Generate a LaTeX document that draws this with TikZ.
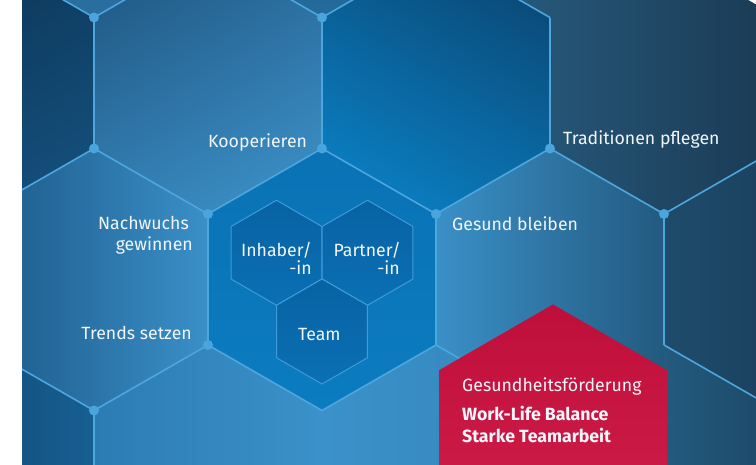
\documentclass[tikz,border=0pt]{standalone}
\usepackage{fontspec}
\setmainfont{Fira Sans}
\definecolor{gridblue}{HTML}{4EA6DF}
\definecolor{dotblue}{HTML}{4AA4DE}
\definecolor{smallline}{HTML}{3E9BD8}
\definecolor{smalltop}{HTML}{0862A3}
\definecolor{smallbot}{HTML}{0A70B4}
\definecolor{redtop}{HTML}{BE0F3A}
\definecolor{redbot}{HTML}{D2204B}
\definecolor{txt}{HTML}{F2F6FA}
% hex fills
\definecolor{mA1}{HTML}{1D5A86}\definecolor{mA2}{HTML}{2A6FA0}
\definecolor{mB1}{HTML}{1B5A88}\definecolor{mB2}{HTML}{246B9C}
\definecolor{zA1}{HTML}{0C3556}\definecolor{zA2}{HTML}{144E7A}
\definecolor{zB1}{HTML}{225C89}\definecolor{zB2}{HTML}{3A8CC2}
\definecolor{zC1}{HTML}{0A4A78}\definecolor{zC2}{HTML}{0A7DC0}
\definecolor{zD1}{HTML}{2B6286}\definecolor{zD2}{HTML}{1A3A54}
\definecolor{oA1}{HTML}{1C5888}\definecolor{oA2}{HTML}{3A90C8}
\definecolor{oB1}{HTML}{0A72B5}\definecolor{oB2}{HTML}{0B7CC0}
\definecolor{oC1}{HTML}{3A90C7}\definecolor{oC2}{HTML}{235A80}
\definecolor{oD1}{HTML}{1F4C6C}\definecolor{oD2}{HTML}{163550}
\definecolor{tA1}{HTML}{0D3F66}\definecolor{tA2}{HTML}{175F92}
\definecolor{tB1}{HTML}{2C7CB4}\definecolor{tB2}{HTML}{3B91C9}
\definecolor{tC1}{HTML}{3B91C9}\definecolor{tC2}{HTML}{3386BB}
\definecolor{tD1}{HTML}{2A6E98}\definecolor{tD2}{HTML}{1C4766}
\newcommand{\hexp}[3]{(#1,{#2-#3}) -- ({#1+0.866*#3},{#2-0.5*#3}) -- ({#1+0.866*#3},{#2+0.5*#3}) -- (#1,{#2+#3}) -- ({#1-0.866*#3},{#2+0.5*#3}) -- ({#1-0.866*#3},{#2-0.5*#3}) -- cycle}
\begin{document}
\begin{tikzpicture}[x=1pt,y=-1pt,
  grid line/.style={draw=gridblue, line width=1.6pt},
  hexdot/.style={circle, fill=dotblue, minimum size=10pt, inner sep=0pt},
  small hex/.style={draw=smallline, line width=1pt, top color=smalltop, bottom color=smallbot},
  lbl/.style={text=txt, inner sep=0pt, font=\fontsize{17.7}{21}\selectfont},
  lblb/.style={text=txt, inner sep=0pt, font=\fontsize{17.7}{21}\selectfont\bfseries},
]
\useasboundingbox (0,0) rectangle (756,464);
\fill[white] (0,0) rectangle (756,464);
\begin{scope}
\clip (22,0) rectangle (756,464);
% row -1
\shade[top color=mA1, bottom color=mA2] \hexp{94}{-113.5}{131.6};
\shade[top color=mB1, bottom color=mB2] \hexp{322}{-113.5}{131.6};
% row 0
\shade[top color=zA1, bottom color=zA2, shading angle=30] \hexp{-20}{83}{131.6};
\shade[top color=zB1, bottom color=zB2, shading angle=30] \hexp{208}{83}{131.6};
\shade[top color=zC1, bottom color=zC2, shading angle=-30] \hexp{436}{83}{131.6};
\shade[left color=zD1, right color=zD2] \hexp{550}{-113.5}{131.6} \hexp{664}{83}{131.6};
% row 1
\shade[left color=oA1, right color=oA2] \hexp{94}{279.5}{131.6};
\shade[top color=oB1, bottom color=oB2] \hexp{322}{279.5}{131.6};
\shade[left color=oC1, right color=oC2] \hexp{550}{279.5}{131.6};
\shade[left color=oD1, right color=oD2] \hexp{778}{279.5}{131.6};
% row 2
\shade[left color=tA1, right color=tA2] \hexp{-20}{476}{131.6};
\shade[left color=tB1, right color=tB2] \hexp{208}{476}{131.6};
\shade[left color=tC1, right color=tC2] \hexp{436}{476}{131.6};
\shade[left color=tD1, right color=tD2] \hexp{664}{476}{131.6};
% vertices
\foreach \n/\x in {a/-20,b/94,c/208,d/322,e/436,f/550,g/664,h/778}
  \foreach \r/\y in {0/-48,1/17.5,2/148.5,3/214,4/345,5/410.5,6/541.5}
    \coordinate (\n\r) at (\x,\y);
% grid lines
\draw[grid line] (a0) -- (b1) -- (c0) -- (d1) -- (e0) -- (f1);
\draw[grid line] (b1) -- (b2);
\draw[grid line] (d1) -- (d2);
\draw[grid line] (f1) -- (f2);
\draw[grid line] (a3) -- (b2) -- (c3) -- (d2) -- (e3) -- (f2) -- (g3) -- (h2);
\draw[grid line] (c3) -- (c4);
\draw[grid line] (e3) -- (e4);
\draw[grid line] (g3) -- (g4);
\draw[grid line] (a4) -- (b5) -- (c4) -- (d5) -- (e4) -- (f5);
\draw[grid line] (g4) -- (h5);
\draw[grid line] (b5) -- (b6);
% dots
\foreach \v in {b1,d1,b2,d2,f2,c3,e3,g3,c4,b5}
  \node[hexdot] (dot-\v) at (\v) {};
% inner hexes
\path[small hex] \hexp{276.5}{252.75}{52.5};
\path[small hex] \hexp{367.5}{252.75}{52.5};
\path[small hex] \hexp{322}{331.5}{52.5};
% red hexagon
\shade[top color=redtop, bottom color=redbot] \hexp{553}{436}{131.6};
\end{scope}
% labels
\node[lbl, anchor=base west] (koop) at (208,147) {Kooperieren};
\node[lbl, anchor=base west] (trad) at (563,144) {Traditionen pflegen};
\node[lbl, anchor=base east] (nach) at (189,229) {Nachwuchs};
\node[lbl, anchor=base east] (gewi) at (193,250) {gewinnen};
\node[lbl, anchor=base east] (trend) at (192,339) {Trends setzen};
\node[lbl, anchor=base west] (gesund) at (452,230) {Gesund bleiben};
\node[lbl, anchor=base east] (inh) at (312,256) {Inhaber/};
\node[lbl, anchor=base east] (inh2) at (312,274) {-in};
\node[lbl, anchor=base east] (par) at (401,256) {Partner/};
\node[lbl, anchor=base east] (par2) at (400,274) {-in};
\node[lbl, anchor=base west] (team) at (298,340) {Team};
\node[lbl, anchor=base west] (gf) at (462,391) {Gesundheitsförderung};
\node[lblb, anchor=base west] (wlb) at (462,420) {Work-Life Balance};
\node[lblb, anchor=base west] (sta) at (462,442) {Starke Teamarbeit};
\end{tikzpicture}
\end{document}
